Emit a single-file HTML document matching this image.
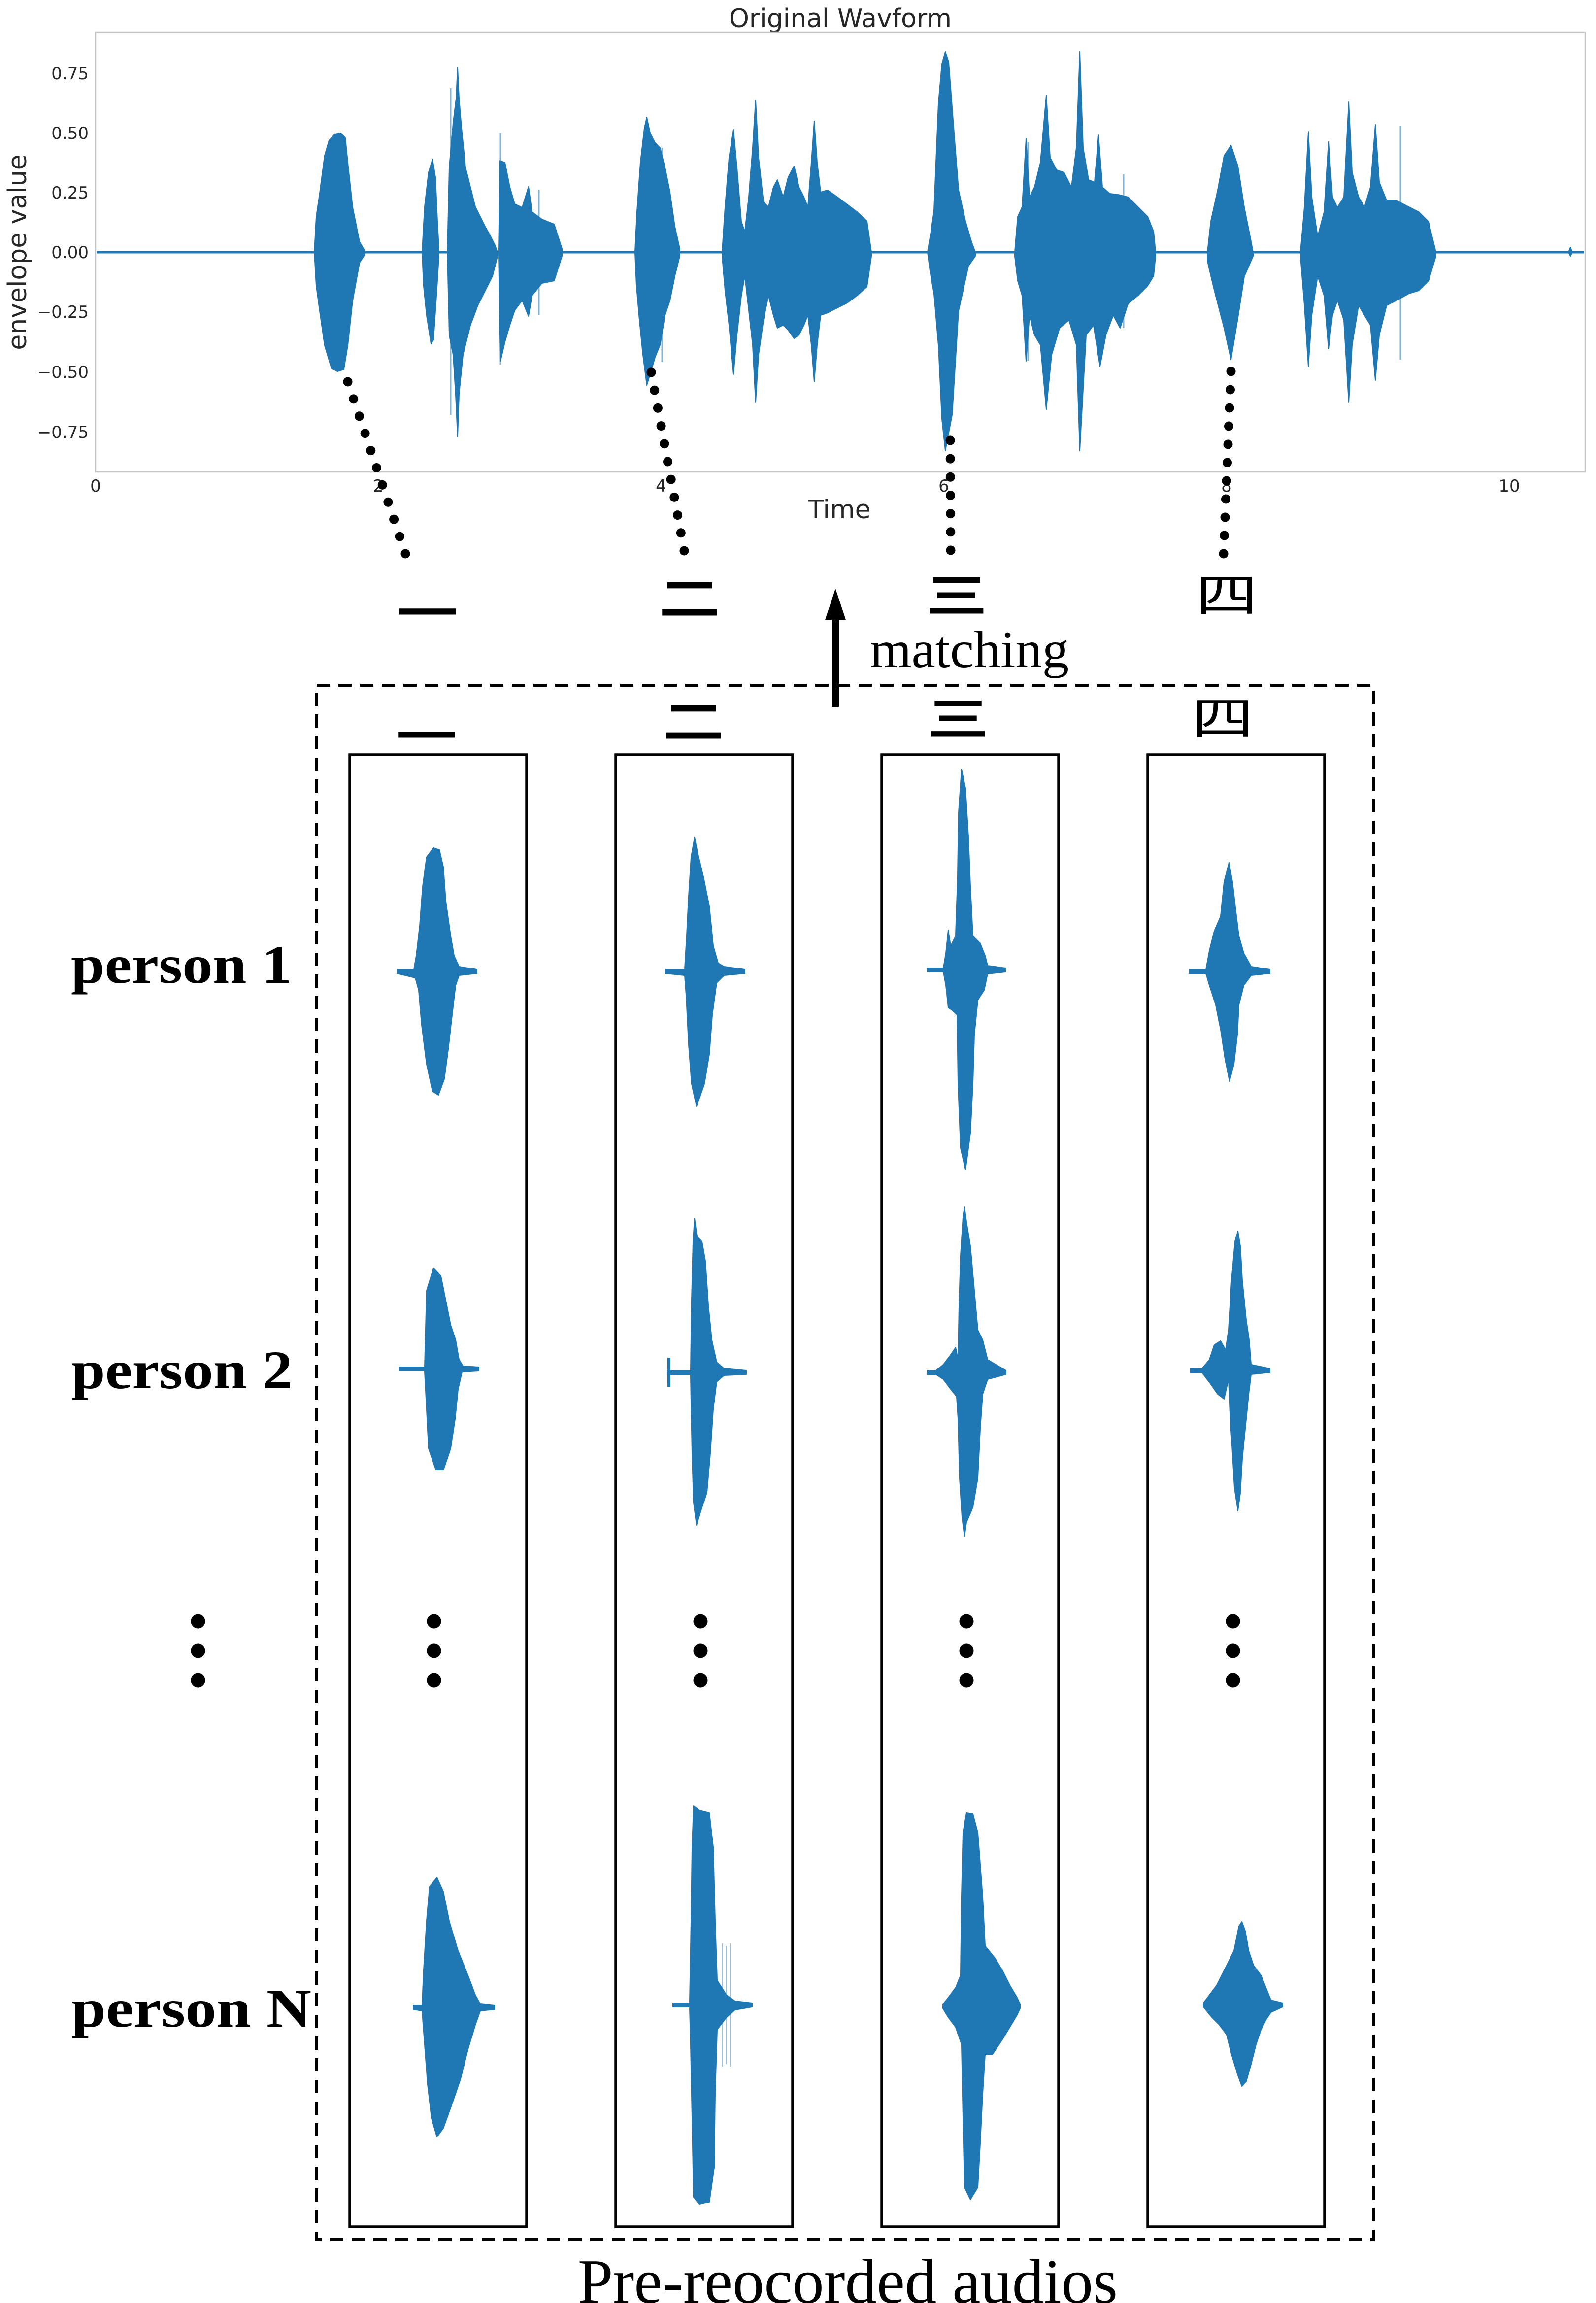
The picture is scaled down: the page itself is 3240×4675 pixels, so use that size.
<!DOCTYPE html>
<html>
<head>
<meta charset="utf-8">
<style>
html,body{margin:0;padding:0;background:#fff;}
svg{display:block;}
</style>
</head>
<body>
<svg xmlns="http://www.w3.org/2000/svg" width="3240" height="4675" viewBox="0 0 3240 4675">
<rect x="0" y="0" width="3240" height="4675" fill="#fff"/>

<!-- ===== Top plot ===== -->
<text x="1706" y="55" font-family="DejaVu Sans, sans-serif" font-size="52" fill="#262626" text-anchor="middle">Original Wavform</text>
<rect x="194" y="65" width="3024" height="893" fill="none" stroke="#c4c4c4" stroke-width="2.5"/>

<g font-family="DejaVu Sans, sans-serif" font-size="34" fill="#262626" text-anchor="end">
<text x="180" y="161">0.75</text>
<text x="180" y="282">0.50</text>
<text x="180" y="403">0.25</text>
<text x="180" y="524">0.00</text>
<text x="180" y="645">−0.25</text>
<text x="180" y="767">−0.50</text>
<text x="180" y="889">−0.75</text>
</g>
<g font-family="DejaVu Sans, sans-serif" font-size="34" fill="#262626" text-anchor="middle">
<text x="194" y="998">0</text>
<text x="768" y="998">2</text>
<text x="1342" y="998">4</text>
<text x="1916" y="998">6</text>
<text x="2490" y="998">8</text>
<text x="3064" y="998">10</text>
</g>
<text x="1704" y="1052" font-family="DejaVu Sans, sans-serif" font-size="52" fill="#262626" text-anchor="middle">Time</text>
<text transform="translate(53,512) rotate(-90)" font-family="DejaVu Sans, sans-serif" font-size="52" fill="#262626" text-anchor="middle">envelope value</text>

<!-- waveform -->
<g fill="#1f77b4" stroke="#1f77b4" stroke-width="2" stroke-linejoin="round">
<line x1="196" y1="512" x2="3216" y2="512" stroke-width="5"/>
<path d="M638,512 L642,440 L649,393 L659,316 L668,285 L680,272 L692,270 L701,280 L706,330 L716,421 L730,491 L740,508 L740,518 L730,533 L716,610 L706,701 L698,750 L685,754 L673,748 L659,701 L649,631 L642,580 Z"/>
<path d="M857,512 L862,420 L870,350 L878,323 L884,360 L888,450 L891,505 L891,520 L886,600 L880,690 L875,698 L866,640 L860,580 Z"/>
<path d="M908,512 L912,340 L920,250 L926,200 L929,137 L932,200 L937,260 L945,340 L955,380 L965,420 L975,440 L985,460 L995,478 L1005,498 L1010,512 L1010,520 L1000,560 L985,590 L970,620 L955,660 L940,720 L932,800 L929,887 L925,800 L920,720 L912,680 Z"/>
<path d="M1012,512 L1015,326 L1025,330 L1035,380 L1045,414 L1060,421 L1073,379 L1080,430 L1100,445 L1125,455 L1141,505 L1141,520 L1125,570 L1100,575 L1080,600 L1073,642 L1060,610 L1045,630 L1035,660 L1025,694 L1016,733 Z"/>
<path d="M1289,512 L1293,430 L1300,330 L1308,260 L1313,238 L1320,270 L1330,290 L1340,300 L1350,340 L1360,390 L1370,460 L1380,505 L1380,520 L1370,560 L1360,610 L1350,640 L1340,700 L1330,725 L1320,760 L1313,782 L1305,720 L1298,650 L1292,580 Z"/>
<path d="M1466,512 L1472,420 L1480,320 L1489,263 L1496,340 L1505,450 L1512,470 L1520,400 L1528,300 L1534,203 L1540,320 L1550,410 L1560,420 L1570,380 L1578,365 L1590,400 L1600,360 L1612,337 L1622,380 L1632,400 L1640,420 L1647,330 L1653,246 L1659,330 L1666,390 L1680,386 L1700,400 L1720,415 L1740,430 L1760,449 L1769,512 L1769,520 L1760,582 L1740,600 L1720,615 L1700,625 L1680,635 L1666,640 L1659,700 L1653,775 L1647,700 L1640,640 L1632,660 L1622,680 L1612,687 L1600,670 L1590,660 L1578,666 L1570,640 L1560,600 L1550,650 L1540,720 L1534,817 L1528,700 L1520,630 L1512,560 L1505,600 L1496,680 L1489,760 L1480,660 L1472,590 L1466,520 Z"/>
<path d="M1883,512 L1890,470 L1896,428 L1905,210 L1912,130 L1919,105 L1926,126 L1935,245 L1946,386 L1960,449 L1972,490 L1980,512 L1980,520 L1966,540 L1946,631 L1933,842 L1919,915 L1912,850 L1905,701 L1896,596 L1888,550 Z"/>
<path d="M2060,512 L2066,440 L2075,420 L2083,281 L2090,400 L2100,380 L2112,330 L2124,193 L2132,320 L2145,345 L2160,350 L2175,380 L2185,300 L2192,105 L2199,300 L2210,365 L2222,370 L2230,274 L2238,380 L2253,393 L2270,395 L2290,400 L2310,420 L2330,440 L2342,470 L2346,512 L2346,520 L2342,560 L2330,580 L2310,600 L2290,617 L2274,666 L2260,640 L2245,680 L2233,744 L2220,660 L2205,680 L2192,915 L2185,700 L2170,650 L2151,666 L2135,720 L2124,831 L2112,700 L2100,680 L2090,640 L2083,733 L2075,600 L2066,570 L2060,520 Z"/>
<path d="M2451,512 L2458,449 L2472,386 L2485,316 L2499,295 L2513,337 L2526,421 L2540,491 L2544,512 L2544,520 L2526,561 L2513,645 L2499,730 L2485,666 L2465,589 L2451,530 Z"/>
<path d="M2640,512 L2648,420 L2656,267 L2663,400 L2675,480 L2688,430 L2697,288 L2705,400 L2715,421 L2728,400 L2738,207 L2745,350 L2758,400 L2770,420 L2782,380 L2792,253 L2800,370 L2815,407 L2835,407 L2860,420 L2880,430 L2900,450 L2915,512 L2915,520 L2900,570 L2880,590 L2860,596 L2835,610 L2815,620 L2800,680 L2792,772 L2782,660 L2770,640 L2758,620 L2745,700 L2738,817 L2728,650 L2715,610 L2705,640 L2697,708 L2688,600 L2675,560 L2663,640 L2656,744 L2648,620 L2640,520 Z"/>
<path d="M3184,512 L3188,502 L3192,512 L3188,520 Z"/>
</g>
<g stroke="#1f77b4" stroke-width="3" opacity="0.55">
<line x1="915" y1="179" x2="915" y2="842"/>
<line x1="1016" y1="270" x2="1016" y2="740"/>
<line x1="1094" y1="385" x2="1094" y2="640"/>
<line x1="2087" y1="288" x2="2087" y2="733"/>
<line x1="2281" y1="354" x2="2281" y2="666"/>
<line x1="2843" y1="256" x2="2843" y2="730"/>
<line x1="1344" y1="300" x2="1344" y2="735"/>
</g>

<!-- dotted connectors -->
<g fill="#000">
<circle cx="706" cy="775" r="9.5"/><circle cx="717.7" cy="809.9" r="9.5"/><circle cx="729.4" cy="844.8" r="9.5"/><circle cx="741.1" cy="879.7" r="9.5"/><circle cx="752.8" cy="914.6" r="9.5"/><circle cx="764.5" cy="949.5" r="9.5"/><circle cx="776.2" cy="984.4" r="9.5"/><circle cx="787.9" cy="1019.3" r="9.5"/><circle cx="799.6" cy="1054.2" r="9.5"/><circle cx="811.3" cy="1089.1" r="9.5"/><circle cx="823" cy="1124" r="9.5"/>
<circle cx="1322" cy="756" r="9.5"/><circle cx="1328.7" cy="792.2" r="9.5"/><circle cx="1335.4" cy="828.4" r="9.5"/><circle cx="1342.1" cy="864.6" r="9.5"/><circle cx="1348.8" cy="900.8" r="9.5"/><circle cx="1355.5" cy="937" r="9.5"/><circle cx="1362.2" cy="973.2" r="9.5"/><circle cx="1368.9" cy="1009.4" r="9.5"/><circle cx="1375.6" cy="1045.6" r="9.5"/><circle cx="1382.3" cy="1081.8" r="9.5"/><circle cx="1389" cy="1118" r="9.5"/>
<circle cx="1929" cy="894" r="9.5"/><circle cx="1929.2" cy="931.2" r="9.5"/><circle cx="1929.3" cy="968.3" r="9.5"/><circle cx="1929.5" cy="1005.5" r="9.5"/><circle cx="1929.7" cy="1042.7" r="9.5"/><circle cx="1929.8" cy="1079.8" r="9.5"/><circle cx="1930" cy="1117" r="9.5"/>
<circle cx="2499" cy="754" r="9.5"/><circle cx="2497.5" cy="791" r="9.5"/><circle cx="2496" cy="828" r="9.5"/><circle cx="2494.5" cy="865" r="9.5"/><circle cx="2493" cy="902" r="9.5"/><circle cx="2491.5" cy="939" r="9.5"/><circle cx="2490" cy="976" r="9.5"/><circle cx="2488.5" cy="1013" r="9.5"/><circle cx="2487" cy="1050" r="9.5"/><circle cx="2485.5" cy="1087" r="9.5"/><circle cx="2484" cy="1124" r="9.5"/>
</g>

<!-- top characters -->
<g font-family="'Noto Sans CJK SC', 'Noto Sans CJK JP', sans-serif" font-size="125" fill="#000" text-anchor="middle">
<text transform="translate(868,1278) scale(1,0.75)" font-weight="700">一</text>
<text transform="translate(1400,1249) scale(1,0.75)" font-weight="700">二</text>
<text transform="translate(1942,1243) scale(1,0.75)" font-weight="700">三</text>
<text transform="translate(2490,1242) scale(1,0.75)" font-weight="400">四</text>
</g>

<!-- matching arrow -->
<rect x="1689" y="1250" width="14" height="185" fill="#000"/>
<path d="M1696,1195 L1717,1258 L1675,1258 Z" fill="#000"/>
<text x="1766" y="1354" font-family="'Liberation Serif', serif" font-size="106" fill="#000" textLength="404" lengthAdjust="spacingAndGlyphs">matching</text>

<!-- dashed container -->
<rect x="643" y="1391" width="2145" height="3156" fill="none" stroke="#000" stroke-width="6" stroke-dasharray="27 17"/>

<!-- bottom-row characters -->
<g font-family="'Noto Sans CJK SC', 'Noto Sans CJK JP', sans-serif" font-size="125" fill="#000" text-anchor="middle">
<text transform="translate(866,1528) scale(1,0.75)" font-weight="700">一</text>
<text transform="translate(1408,1499) scale(1,0.75)" font-weight="700">二</text>
<text transform="translate(1945,1493) scale(1,0.75)" font-weight="700">三</text>
<text transform="translate(2482,1492) scale(1,0.75)" font-weight="400">四</text>
</g>

<!-- column boxes -->
<g fill="none" stroke="#000" stroke-width="5.5">
<rect x="710" y="1532" width="359" height="2988"/>
<rect x="1250" y="1532" width="359" height="2988"/>
<rect x="1790" y="1532" width="359" height="2988"/>
<rect x="2330" y="1532" width="359" height="2988"/>
</g>

<!-- person labels -->
<g font-family="'Liberation Serif', serif" font-weight="700" font-size="110" fill="#000">
<text x="144" y="1995" textLength="449" lengthAdjust="spacingAndGlyphs">person 1</text>
<text x="145" y="2818" textLength="449" lengthAdjust="spacingAndGlyphs">person 2</text>
<text x="145" y="4114" textLength="487" lengthAdjust="spacingAndGlyphs">person N</text>
</g>

<!-- small waveforms -->
<g fill="#1f77b4" stroke="#1f77b4" stroke-width="2" stroke-linejoin="round">
<!-- row 1 -->
<path d="M806,1968 L840,1968 L845,1940 L852,1880 L858,1800 L866,1740 L880,1721 L892,1725 L900,1760 L905,1830 L915,1900 L922,1940 L932,1962 L968,1968 L968,1976 L932,1980 L925,2000 L918,2060 L910,2130 L902,2190 L890,2223 L878,2215 L866,2160 L856,2080 L850,2010 L843,1985 L806,1976 Z"/>
<path d="M1351,1968 L1390,1968 L1394,1900 L1398,1820 L1403,1740 L1410,1700 L1416,1730 L1428,1780 L1440,1840 L1448,1920 L1458,1955 L1470,1962 L1512,1968 L1512,1976 L1470,1980 L1455,1995 L1446,2060 L1440,2140 L1430,2200 L1414,2246 L1404,2200 L1398,2120 L1393,2020 L1390,1980 L1351,1976 Z"/>
<path d="M1882,1965 L1915,1965 L1920,1935 L1925,1888 L1930,1920 L1940,1900 L1944,1780 L1946,1650 L1952,1562 L1960,1600 L1966,1700 L1970,1800 L1975,1900 L1990,1915 L2000,1940 L2005,1960 L2041,1965 L2041,1973 L2005,1977 L1998,2010 L1985,2030 L1978,2100 L1975,2200 L1970,2300 L1960,2375 L1950,2330 L1945,2200 L1943,2060 L1932,2050 L1925,2045 L1920,2000 L1915,1973 L1882,1973 Z"/>
<path d="M2414,1968 L2448,1968 L2455,1930 L2465,1890 L2478,1860 L2485,1790 L2495,1751 L2502,1790 L2510,1860 L2515,1900 L2525,1935 L2540,1962 L2578,1968 L2578,1976 L2540,1980 L2525,2000 L2515,2040 L2512,2100 L2505,2160 L2496,2195 L2487,2150 L2478,2090 L2468,2040 L2455,2000 L2448,1976 L2414,1976 Z"/>
<!-- row 2 -->
<path d="M810,2775 L862,2775 L864,2700 L866,2620 L880,2574 L895,2590 L905,2640 L915,2690 L925,2720 L932,2760 L940,2773 L972,2775 L972,2783 L938,2785 L930,2820 L924,2880 L915,2940 L900,2984 L885,2984 L870,2940 L866,2860 L862,2783 L810,2783 Z"/>
<path d="M1355,2782 L1402,2782 L1404,2640 L1407,2520 L1410,2473 L1415,2510 L1425,2520 L1432,2560 L1438,2650 L1445,2720 L1455,2765 L1470,2778 L1515,2782 L1515,2790 L1470,2792 L1455,2805 L1448,2860 L1442,2950 L1435,3030 L1425,3060 L1414,3096 L1408,3050 L1405,2950 L1403,2850 L1402,2790 L1355,2790 Z"/>
<rect x="1356" y="2757" width="4" height="58"/>
<path d="M1882,2782 L1900,2782 L1915,2770 L1930,2750 L1940,2735 L1945,2760 L1947,2650 L1950,2550 L1955,2470 L1958,2450 L1962,2480 L1970,2530 L1978,2620 L1985,2700 L1995,2720 L2005,2760 L2042,2782 L2042,2790 L2005,2800 L1995,2830 L1990,2900 L1985,3000 L1975,3060 L1962,3090 L1958,3119 L1953,3080 L1948,3000 L1945,2880 L1942,2835 L1930,2820 L1915,2800 L1900,2790 L1882,2790 Z"/>
<path d="M2417,2778 L2440,2778 L2455,2760 L2465,2730 L2478,2722 L2488,2740 L2494,2700 L2500,2600 L2507,2520 L2513,2499 L2518,2530 L2522,2600 L2530,2680 L2536,2720 L2540,2770 L2578,2778 L2578,2786 L2540,2790 L2535,2830 L2528,2900 L2522,2960 L2518,3030 L2513,3067 L2506,3020 L2502,2950 L2497,2870 L2494,2800 L2485,2840 L2472,2830 L2458,2810 L2440,2786 L2417,2786 Z"/>
<!-- row N -->
<path d="M839,4071 L857,4071 L860,4000 L866,3900 L872,3830 L887,3811 L900,3840 L912,3900 L930,3960 L950,4010 L965,4050 L975,4068 L1004,4071 L1004,4079 L975,4082 L965,4110 L950,4160 L935,4220 L918,4270 L900,4320 L887,4338 L876,4300 L868,4230 L862,4150 L857,4082 L839,4079 Z"/>
<path d="M1366,4066 L1400,4066 L1403,3900 L1405,3750 L1408,3666 L1420,3675 L1440,3680 L1448,3750 L1452,3900 L1456,4020 L1475,4050 L1492,4062 L1527,4066 L1527,4074 L1492,4080 L1475,4095 L1456,4120 L1452,4250 L1450,4400 L1440,4470 L1420,4475 L1408,4460 L1405,4300 L1402,4150 L1400,4074 L1366,4074 Z"/>
<path d="M1914,4069 L1925,4055 L1940,4035 L1950,4010 L1952,3850 L1955,3720 L1962,3680 L1975,3682 L1985,3720 L1995,3850 L2000,3950 L2020,3975 L2035,4000 L2050,4030 L2065,4055 L2071,4069 L2071,4077 L2065,4090 L2050,4115 L2035,4140 L2015,4170 L2000,4170 L1995,4250 L1990,4350 L1985,4440 L1970,4465 L1958,4440 L1955,4300 L1952,4150 L1940,4115 L1925,4095 L1914,4077 Z"/>
<path d="M2443,4066 L2455,4050 L2470,4030 L2485,4000 L2505,3960 L2515,3910 L2521,3901 L2528,3920 L2535,3960 L2545,3990 L2560,4010 L2572,4040 L2580,4060 L2604,4066 L2604,4074 L2580,4085 L2570,4100 L2560,4120 L2550,4150 L2540,4190 L2530,4225 L2521,4235 L2512,4210 L2500,4170 L2490,4130 L2475,4110 L2460,4095 L2443,4074 Z"/>
</g>
<g stroke="#1f77b4" stroke-width="2" opacity="0.45">
<line x1="1467" y1="3945" x2="1467" y2="4195"/>
<line x1="1474" y1="3950" x2="1474" y2="4190"/>
<line x1="1482" y1="3945" x2="1482" y2="4195"/>
</g>

<!-- ellipsis dots -->
<g fill="#000">
<circle cx="402" cy="3291" r="14.5"/><circle cx="402" cy="3351" r="14.5"/><circle cx="402" cy="3411" r="14.5"/>
<circle cx="881" cy="3291" r="14.5"/><circle cx="881" cy="3351" r="14.5"/><circle cx="881" cy="3411" r="14.5"/>
<circle cx="1422" cy="3291" r="14.5"/><circle cx="1422" cy="3351" r="14.5"/><circle cx="1422" cy="3411" r="14.5"/>
<circle cx="1962" cy="3291" r="14.5"/><circle cx="1962" cy="3351" r="14.5"/><circle cx="1962" cy="3411" r="14.5"/>
<circle cx="2503" cy="3291" r="14.5"/><circle cx="2503" cy="3351" r="14.5"/><circle cx="2503" cy="3411" r="14.5"/>
</g>

<!-- bottom caption -->
<text x="1173" y="4674" font-family="'Liberation Serif', serif" font-size="128" fill="#000" textLength="1096" lengthAdjust="spacingAndGlyphs">Pre-reocorded audios</text>
</svg>
</body>
</html>
